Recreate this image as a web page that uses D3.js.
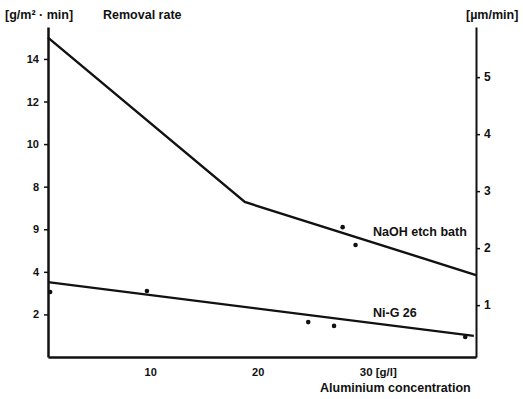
<!DOCTYPE html>
<html>
<head>
<meta charset="utf-8">
<script src="https://cdn.jsdelivr.net/npm/d3@7"></script>
<style>
  body { margin: 0; background: #fff; }
  svg { font-family: "Liberation Sans", Arial, sans-serif; }
  .lbl { font-size: 12.5px; font-weight: bold; fill: #111; }
  .tk { font-size: 11px; font-weight: bold; fill: #111; }
</style>
</head>
<body>
<svg width="523" height="399"></svg>
<script>
// aluminium concentration [g/l] vs removal rate [g/m2 min]
var naohX = [0.5, 18.8, 40.3];
var naohY = [15.0, 7.28, 3.85];
var nigX = [0.5, 40.1];
var nigY = [3.52, 0.99];

// measured points
var naohPtX = [27.9, 29.1];
var naohPtY = [6.1, 5.26];
var nigPtX = [0.7, 9.7, 24.7, 27.1, 39.3];
var nigPtY = [3.05, 3.1, 1.64, 1.46, 0.94];

var xTicks = [10, 20, 30];
var leftTicks = [2, 4, 6, 8, 10, 12, 14];
var leftLabels = ["2", "4", "9", "8", "10", "12", "14"];
var rightTicks = [1, 2, 3, 4, 5];

var svg = d3.select("svg");

var x = d3.scaleLinear().domain([0.5, 40.3]).range([48, 476]);
var y = d3.scaleLinear().domain([0, 15.5]).range([357, 27]);
var yR = d3.scaleLinear().domain([0.09, 5.88]).range([357, 27]);

// axes
var xAxis = svg.append("g")
    .attr("transform", "translate(0,357)")
    .call(d3.axisBottom(x).tickValues(xTicks).tickSize(0).tickPadding(11)
      .tickFormat(function(d) { return d == 30 ? "30 [g/l]" : d; }));
xAxis.select(".domain").attr("stroke-width", 2.5).attr("stroke", "#111");
xAxis.selectAll("text").attr("class", "tk")
    .filter(function(d) { return d == 30; })
    .attr("text-anchor", "start").attr("dx", -6)
    .style("font-size", "11.5px");

var leftAxis = svg.append("g")
    .attr("transform", "translate(48,0)")
    .call(d3.axisLeft(y).tickValues(leftTicks).tickSize(4).tickSizeOuter(0).tickPadding(5)
      .tickFormat(function(d, i) { return leftLabels[i]; }));
leftAxis.select(".domain").attr("stroke-width", 2.5).attr("stroke", "#111");
leftAxis.selectAll(".tick line").attr("stroke", "#111").attr("stroke-width", 1.5);
leftAxis.selectAll("text").attr("class", "tk");

var rightAxis = svg.append("g")
    .attr("transform", "translate(476,0)")
    .call(d3.axisRight(yR).tickValues(rightTicks).tickSize(4).tickSizeOuter(0).tickPadding(4)
      .tickFormat(d3.format("d")));
rightAxis.select(".domain").attr("stroke-width", 2).attr("stroke", "#111");
rightAxis.selectAll(".tick line").attr("stroke", "#111").attr("stroke-width", 1.5);
rightAxis.selectAll("text").attr("class", "tk").style("font-size", "12px");

// lines
var line = d3.line()
    .x(function(d) { return x(d[0]); })
    .y(function(d) { return y(d[1]); });

svg.append("path")
    .datum(d3.zip(naohX, naohY))
    .attr("d", line)
    .attr("fill", "none").attr("stroke", "#111").attr("stroke-width", 2.4);

svg.append("path")
    .datum(d3.zip(nigX, nigY))
    .attr("d", line)
    .attr("fill", "none").attr("stroke", "#111").attr("stroke-width", 2.2);

// points
svg.append("g").selectAll("circle")
    .data(d3.zip(naohPtX, naohPtY).concat(d3.zip(nigPtX, nigPtY)))
    .enter().append("circle")
      .attr("cx", function(d) { return x(d[0]); })
      .attr("cy", function(d) { return y(d[1]); })
      .attr("r", 2.3)
      .attr("fill", "#111");

// texts
svg.append("text").attr("class", "lbl").attr("x", 5).attr("y", 19).text("[g/m² · min]");
svg.append("text").attr("class", "lbl").attr("x", 103).attr("y", 19).text("Removal rate");
svg.append("text").attr("class", "lbl").attr("x", 466).attr("y", 19).text("[µm/min]");
svg.append("text").attr("class", "lbl").attr("x", 373).attr("y", 236).text("NaOH etch bath");
svg.append("text").attr("class", "lbl").attr("x", 373).attr("y", 317).text("Ni-G 26");
svg.append("text").attr("class", "lbl").attr("x", 320).attr("y", 392).text("Aluminium concentration");
</script>
</body>
</html>
